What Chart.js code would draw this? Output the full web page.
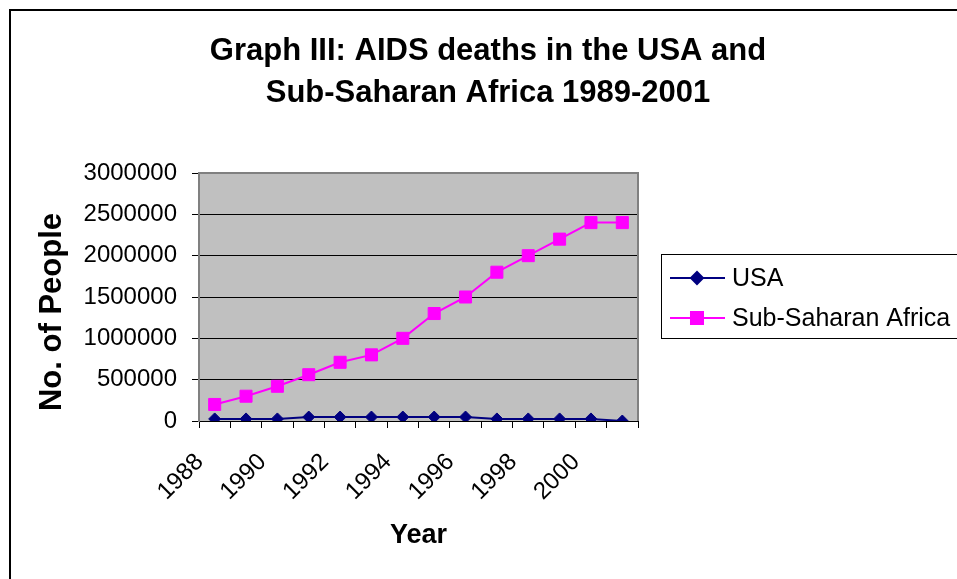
<!DOCTYPE html>
<html>
<head>
<meta charset="utf-8">
<script src="https://cdn.jsdelivr.net/npm/chart.js@4.4.1/dist/chart.umd.min.js"></script>
<style>
  html, body { margin: 0; padding: 0; background: #fff; }
  canvas { display: block; }
</style>
</head>
<body>
<canvas id="c" width="957" height="579"></canvas>
<script>
const years = ['1988','1989','1990','1991','1992','1993','1994','1995','1996','1997','1998','1999','2000','2001'];
const usaDeaths = [25000, 25000, 25000, 48000, 48000, 48000, 48000, 48000, 48000, 25000, 25000, 25000, 25000, 0];
const ssaDeaths = [200000, 300000, 420000, 560000, 710000, 800000, 1000000, 1300000, 1500000, 1800000, 2000000, 2200000, 2400000, 2400000];
const titleLines = ['Graph III: AIDS deaths in the USA and', 'Sub-Saharan Africa 1989-2001'];
const seriesNames = ['USA', 'Sub-Saharan Africa'];
const yTitle = 'No. of People';
const xTitle = 'Year';

const FONT = '"Liberation Sans", Arial, sans-serif';

const decor = {
  id: 'decor',
  beforeDraw(chart) {
    const {ctx, chartArea: a} = chart;
    ctx.save();
    ctx.fillStyle = '#C0C0C0';
    ctx.fillRect(a.left, a.top, a.right - a.left, a.bottom - a.top);
    ctx.restore();
  },
  beforeDatasetsDraw(chart) {
    const {ctx, chartArea: a} = chart;
    ctx.save();
    ctx.strokeStyle = '#808080';
    ctx.lineWidth = 2;
    ctx.beginPath();
    ctx.moveTo(a.left, a.top);
    ctx.lineTo(a.right, a.top);
    ctx.lineTo(a.right, a.bottom);
    ctx.stroke();
    ctx.restore();
  },
  afterDraw(chart) {
    const {ctx} = chart;
    ctx.save();
    // title, centred on the whole chart
    ctx.fillStyle = '#000';
    ctx.font = 'bold 31px ' + FONT;
    ctx.textAlign = 'center';
    ctx.textBaseline = 'middle';
    ctx.fillText(titleLines[0], 488, 51);
    ctx.fillText(titleLines[1], 488, 93);
    // y axis title
    ctx.save();
    ctx.translate(52, 312);
    ctx.rotate(-Math.PI / 2);
    ctx.font = 'bold 31px ' + FONT;
    ctx.fillText(yTitle, 0, 0);
    ctx.restore();
    // outer border
    ctx.strokeStyle = '#000';
    ctx.lineWidth = 2;
    ctx.strokeRect(10, 10, 980, 600);
    // legend box
    ctx.lineWidth = 1;
    ctx.strokeStyle = '#000';
    ctx.strokeRect(661.5, 254.5, 400, 84);
    const rows = [278, 318];
    chart.data.datasets.forEach((ds, i) => {
      const y = rows[i];
      ctx.strokeStyle = ds.borderColor;
      ctx.lineWidth = 2;
      ctx.beginPath();
      ctx.moveTo(670, y);
      ctx.lineTo(725, y);
      ctx.stroke();
      Chart.helpers.drawPoint(ctx, {
        pointStyle: ds.pointStyle,
        radius: ds.pointRadius,
        borderWidth: 1
      }, 697, y);
      ctx.fillStyle = ds.borderColor;
      ctx.fill();
      ctx.fillStyle = '#000';
      ctx.font = '25px ' + FONT;
      ctx.textAlign = 'left';
      ctx.textBaseline = 'middle';
      ctx.fillText(seriesNames[i], 732, y + 1);
    });
    ctx.restore();
  }
};

new Chart(document.getElementById('c'), {
  type: 'line',
  data: {
    labels: years,
    datasets: [
      {
        label: seriesNames[0],
        data: usaDeaths,
        borderColor: '#000080',
        backgroundColor: '#000080',
        pointBackgroundColor: '#000080',
        pointBorderColor: '#000080',
        borderWidth: 2,
        pointStyle: 'rectRot',
        pointRadius: 6,
        pointBorderWidth: 1,
        tension: 0
      },
      {
        label: seriesNames[1],
        data: ssaDeaths,
        borderColor: '#FF00FF',
        backgroundColor: '#FF00FF',
        pointBackgroundColor: '#FF00FF',
        pointBorderColor: '#FF00FF',
        borderWidth: 2,
        pointStyle: 'rect',
        pointRadius: 8.5,
        pointBorderWidth: 1,
        tension: 0
      }
    ]
  },
  options: {
    responsive: false,
    animation: false,
    devicePixelRatio: 1,
    layout: { padding: { left: 10, right: 319, top: 173, bottom: 0 } },
    plugins: {
      legend: { display: false },
      tooltip: { enabled: false },
      title: { display: false }
    },
    scales: {
      x: {
        type: 'category',
        offset: true,
        grid: { offset: true, drawOnChartArea: false, drawTicks: true, tickLength: 7, color: '#000', lineWidth: 1 },
        border: { color: '#000', width: 1 },
        ticks: {
          autoSkip: false,
          minRotation: 45,
          maxRotation: 45,
          color: '#000',
          padding: 20,
          labelOffset: -15,
          font: { family: FONT, size: 24 },
          callback: (v, i) => (i % 2 === 0 ? years[i] : '')
        },
        title: {
          display: true,
          text: xTitle,
          color: '#000',
          font: { family: FONT, size: 27, weight: 'bold' },
          padding: { top: 0, bottom: 27 }
        },
        afterFit: (s) => { s.height = 158; }
      },
      y: {
        min: 0,
        max: 3000000,
        grid: { color: '#000', lineWidth: 1, tickLength: 7 },
        border: { color: '#808080', width: 2 },
        ticks: {
          stepSize: 500000,
          color: '#000',
          padding: 15,
          font: { family: FONT, size: 24 },
          callback: (v) => String(v)
        },
        title: { display: false },
        afterFit: (s) => { s.width = 189; }
      }
    }
  },
  plugins: [decor]
});
</script>
</body>
</html>
